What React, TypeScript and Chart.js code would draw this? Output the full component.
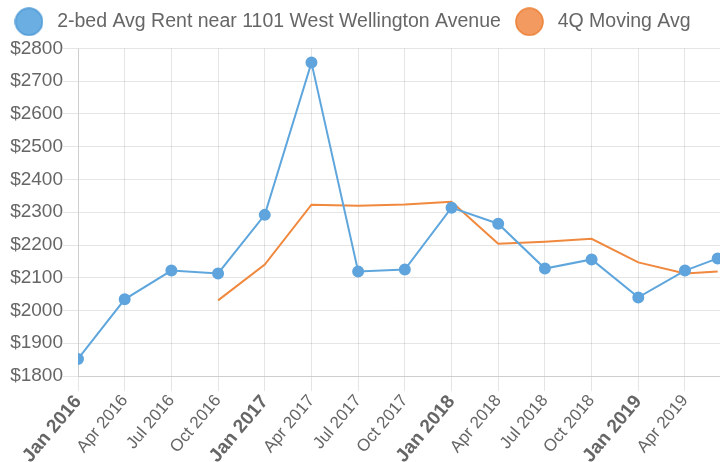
import React, { useEffect, useRef } from 'react';
import { Chart, registerables } from 'chart.js';

Chart.register(...registerables);

// Months since Jan 2016 for each observation
const monthIndex = [0, 3, 6, 9, 12, 15, 18, 21, 24, 27, 30, 33, 36, 39, 41.1];
const rentValues = [1852, 2034, 2122, 2113, 2292, 2757, 2119, 2125, 2314, 2265, 2128, 2156, 2040, 2122, 2159];
const movingAvgValues: (number | null)[] = [null, null, null, 2031, 2140, 2323, 2320, 2324, 2332, 2204, 2210, 2219, 2147, 2113, 2119];

const tickMonths = [0, 3, 6, 9, 12, 15, 18, 21, 24, 27, 30, 33, 36, 39];
const tickLabels = [
  'Jan 2016', 'Apr 2016', 'Jul 2016', 'Oct 2016',
  'Jan 2017', 'Apr 2017', 'Jul 2017', 'Oct 2017',
  'Jan 2018', 'Apr 2018', 'Jul 2018', 'Oct 2018',
  'Jan 2019', 'Apr 2019',
];
const seriesNames = ['2-bed Avg Rent near 1101 West Wellington Avenue', '4Q Moving Avg'];

const X_MAX = 41.25;
const FONT = "'Liberation Sans', Arial, Helvetica, sans-serif";
const TEXT = '#666';
const GRID = 'rgba(0,0,0,0.1)';
const CANVAS_W = 727;

function makeDot(fill: string, stroke: string, size: number) {
  const c = document.createElement('canvas');
  c.width = size;
  c.height = size;
  const ctx = c.getContext('2d')!;
  ctx.beginPath();
  ctx.arc(size / 2, size / 2, size / 2 - 1, 0, Math.PI * 2);
  ctx.fillStyle = fill;
  ctx.fill();
  ctx.lineWidth = 1.5;
  ctx.strokeStyle = stroke;
  ctx.stroke();
  return c;
}

// Nudges the legend box into place after layout (horizontal/vertical offset only).
const legendNudge = {
  id: 'legendNudge',
  afterLayout(chart: any) {
    const lg = chart.legend;
    if (!lg) return;
    lg.left -= 17;
    lg.right -= 17;
    lg.top -= 7;
    lg.bottom -= 7;
  },
};

export default function App() {
  const ref = useRef<HTMLCanvasElement>(null);

  useEffect(() => {
    if (!ref.current) return;
    const dots = [makeDot('#6AAEE2', '#4E9AD6', 29), makeDot('#F39A60', '#EC8036', 29)];
    const chart = new Chart(ref.current, {
      type: 'line',
      data: {
        datasets: [
          {
            label: seriesNames[0],
            data: monthIndex.map((m, i) => ({ x: m, y: rentValues[i] })),
            borderColor: '#5FA6DD',
            backgroundColor: '#5FA6DD',
            pointBackgroundColor: '#5FA4DC',
            pointBorderColor: '#5FA4DC',
            pointRadius: 5,
            pointHoverRadius: 5,
            borderWidth: 2,
            tension: 0,
          },
          {
            label: seriesNames[1],
            data: monthIndex.map((m, i) => ({ x: m, y: movingAvgValues[i] })),
            borderColor: '#F0883E',
            backgroundColor: '#F39A60',
            pointRadius: 0,
            borderWidth: 2,
            tension: 0,
            spanGaps: false,
          },
        ],
      },
      options: {
        responsive: false,
        animation: false,
        layout: { padding: { left: 8, right: 0, top: 9, bottom: 0 } },
        plugins: {
          tooltip: { enabled: false },
          legend: {
            display: true,
            position: 'top',
            labels: {
              usePointStyle: true,
              pointStyleWidth: 37,
              color: TEXT,
              padding: 10,
              font: { family: FONT, size: 19.5 },
              generateLabels: (ch: any) =>
                (Chart.defaults.plugins.legend.labels.generateLabels as any)(ch).map((l: any) => ({
                  ...l,
                  pointStyle: dots[l.datasetIndex],
                })),
            },
          },
        },
        scales: {
          x: {
            type: 'linear',
            min: 0,
            max: X_MAX,
            afterBuildTicks: (s: any) => {
              s.ticks = tickMonths.map((v) => ({ value: v }));
            },
            afterFit: (s: any) => {
              s.height = 86;
            },
            grid: { color: GRID, tickLength: 15 },
            border: { color: GRID },
            ticks: {
              autoSkip: false,
              minRotation: 50,
              maxRotation: 50,
              padding: 0,
              color: TEXT,
              callback: (v: any) => {
                const i = tickMonths.indexOf(Number(v));
                return i >= 0 ? tickLabels[i] : '';
              },
              font: (ctx: any) => {
                const v = ctx.tick ? ctx.tick.value : 1;
                return v % 12 === 0
                  ? { family: FONT, size: 19, weight: 'bold' }
                  : { family: FONT, size: 17 };
              },
            },
          },
          y: {
            min: 1800,
            max: 2800,
            afterFit: (s: any) => {
              s.width = 70;
            },
            grid: { color: GRID, tickLength: 15 },
            border: { color: GRID },
            ticks: {
              stepSize: 100,
              padding: 0,
              color: TEXT,
              font: { family: FONT, size: 19 },
              callback: (v: any) => '$' + v,
            },
          },
        },
      },
      plugins: [legendNudge],
    });
    return () => chart.destroy();
  }, []);

  return (
    <div style={{ position: 'absolute', left: 0, top: 0, width: 720, height: 462, overflow: 'hidden' }}>
      <canvas ref={ref} width={CANVAS_W} height={462} style={{ width: CANVAS_W, height: 462, display: 'block' }} />
    </div>
  );
}
